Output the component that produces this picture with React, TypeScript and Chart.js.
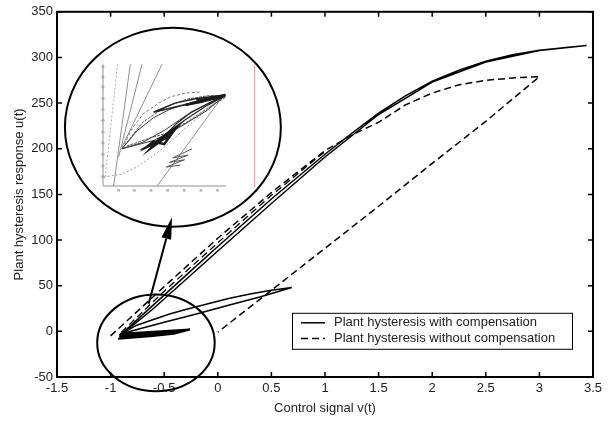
import React, { useEffect, useRef } from 'react';
import { Chart, registerables } from 'chart.js';

Chart.register(...registerables);

type P = [number, number];

// ---- axis ticks ----
const xTicks = [-1.5, -1, -0.5, 0, 0.5, 1, 1.5, 2, 2.5, 3, 3.5];
const yTicks = [-50, 0, 50, 100, 150, 200, 250, 300, 350];

const seriesLabels = ['Plant hysteresis with compensation', 'Plant hysteresis without compensation'];

// ---- with compensation (solid) ----
const compLargeAsc: P[] = [
  [-0.9, -3], [-0.6, 29], [-0.3, 61], [0, 93], [0.5, 145], [1.0, 194], [1.25, 217], [1.5, 239],
  [1.75, 258], [2.0, 274], [2.25, 286], [2.5, 296], [2.75, 303], [3.0, 308], [3.25, 311], [3.44, 313],
];
const compLargeDesc: P[] = [
  [3.44, 313], [3.0, 307.5], [2.5, 295], [2.0, 273], [1.5, 237.5], [1.0, 191], [0.5, 140], [0, 88],
  [-0.3, 56.5], [-0.6, 25], [-0.9, -4],
];
const compSmallUp: P[] = [
  [-0.91, -3], [-0.75, 7], [-0.6, 13], [-0.45, 19], [-0.3, 24], [-0.1, 30], [0.1, 36], [0.3, 41], [0.5, 45], [0.69, 48],
];
const compSmallDown: P[] = [[0.69, 48], [0.4, 38], [0.1, 28.5], [-0.2, 19], [-0.5, 10], [-0.91, -3]];
const compMinorLoops: P[] = [
  [-0.91, -2.6], [-0.26, 2], [-0.41, -2.6], [-0.63, -5.5], [-0.93, -8], [-0.6, -3], [-0.27, 1.5],
  [-0.6, -4.5], [-0.92, -5.5], [-0.55, -1.5], [-0.3, 1], [-0.62, -2], [-0.92, -4],
];

// ---- without compensation (dashed) ----
const noCompAsc: P[] = [
  [-1.0, -5], [-0.5, 49], [0, 102], [0.5, 152], [1.0, 198], [1.25, 215], [1.5, 229], [1.75, 248],
  [2.0, 261], [2.25, 270], [2.5, 275], [2.75, 277.5], [3.0, 279],
];
const noCompDesc: P[] = [[3.0, 279], [2.5, 230], [2.0, 184], [1.5, 137], [1.0, 91], [0.5, 45], [0, -1]];
const noCompInner: P[] = [[-0.9, -1], [-0.5, 44], [0, 97], [0.5, 149], [1.0, 197]];

// ---- magnified inset picture (grey) ----
const insetAxisV: P[] = [[-1.071, 292.6], [-1.071, 159.2]];
const insetAxisH: P[] = [[-1.071, 159.2], [0.076, 159.2]];
const insetYTickMarks: P[] = [
  [-1.071, 289.6], [-1.071, 278.7], [-1.071, 267.7], [-1.071, 255], [-1.071, 243], [-1.071, 231.2],
  [-1.071, 218.4], [-1.071, 206.4], [-1.071, 194], [-1.071, 181.2], [-1.071, 169.1],
];
const insetXTickMarks: P[] = [
  [-0.925, 154.5], [-0.779, 154.5], [-0.623, 154.5], [-0.468, 154.5], [-0.313, 154.5], [-0.157, 154.5], [-0.002, 154.5],
];
const insetRed: P[] = [[0.343, 292], [0.343, 158]];
const insetSteep1: P[] = [[-0.972, 159.2], [-0.816, 292.6]];
const insetSteep2: P[] = [[-0.925, 191], [-0.707, 292.6]];
const insetSteep3: P[] = [[-0.894, 202], [-0.52, 292.6]];
const insetSteepDotted: P[] = [[-1.05, 169], [-0.935, 292.6]];
const insetRightLine: P[] = [[-0.567, 159.2], [-0.36, 192], [-0.163, 224], [0.054, 258.6]];
const insetLowerArc: P[] = [[-1.065, 169], [-0.9, 172], [-0.754, 180], [-0.536, 198], [-0.287, 224], [-0.07, 246], [0.07, 258]];
const insetOuterArc: P[] = [[-0.894, 200], [-0.8, 222], [-0.692, 238.6], [-0.55, 250], [-0.443, 256.8], [-0.3, 261], [-0.17, 262]];
const insetLoopA: P[] = [
  [-0.894, 200], [-0.75, 220], [-0.6, 234], [-0.45, 243], [-0.3, 249], [-0.15, 253], [0.07, 258.6],
  [-0.1, 249], [-0.3, 236], [-0.5, 220], [-0.7, 207], [-0.894, 200],
];
const insetLoopB: P[] = [
  [-0.72, 199], [-0.6, 206], [-0.5, 214], [-0.38, 228], [-0.25, 240], [-0.1, 249], [0.07, 258],
  [-0.12, 246], [-0.3, 232], [-0.45, 219], [-0.58, 208], [-0.72, 199],
];
const insetLoopC: P[] = [[-0.894, 200], [-0.599, 209], [-0.35, 224], [-0.1, 242], [0.07, 258.6]];
const insetLoopD: P[] = [[-0.6, 240], [-0.4, 250], [-0.2, 255], [0.07, 259], [-0.15, 251], [-0.35, 247], [-0.6, 240]];
const insetLoopE: P[] = [[-0.894, 200], [-0.7, 229], [-0.5, 245], [-0.3, 254], [-0.1, 258], [0.07, 258.6]];
const insetLoopF: P[] = [[-0.85, 203], [-0.65, 211], [-0.45, 218], [-0.25, 232], [-0.05, 248], [0.07, 256]];
const insetClusterLow: P[] = [
  [-0.63, 203], [-0.45, 214], [-0.38, 224], [-0.55, 210], [-0.62, 201], [-0.42, 218], [-0.5, 205], [-0.6, 208],
  [-0.66, 202], [-0.48, 212],
];
const insetClusterHigh: P[] = [[-0.25, 250], [0.07, 259], [-0.15, 252], [0.05, 257], [-0.2, 253], [0.07, 258], [-0.3, 248]];
const insetZigzag: P[] = [[-0.24, 200], [-0.42, 190], [-0.28, 193], [-0.45, 185], [-0.31, 188], [-0.48, 180], [-0.35, 182]];

// ---- annotations (data units) ----
const bigEllipse = { cx: -0.419, cy: 223.6, rx: 1.007, ry: 109 };
const smallEllipse = { cx: -0.577, cy: -12.6, rx: 0.548, ry: 53 };
const arrowFrom: P = [-0.645, 30.3];
const arrowTo: P = [-0.427, 125];

const toXY = (pts: P[]) => pts.map(([x, y]) => ({ x, y }));

const FONT = '"Liberation Sans", Arial, Helvetica, sans-serif';
const DASH = [7, 4];

function line(data: P[], color: string, width: number, dash: number[] = [], label = '') {
  return {
    label,
    data: toXY(data),
    showLine: true,
    borderColor: color,
    backgroundColor: color,
    borderWidth: width,
    borderDash: dash,
    pointRadius: 0,
    fill: false,
    tension: 0,
  };
}
function marks(data: P[], color: string, style: string, radius: number) {
  return {
    label: '',
    data: toXY(data),
    showLine: false,
    pointStyle: style,
    pointRadius: radius,
    borderWidth: 0,
    backgroundColor: color,
    borderColor: color,
  };
}

const decorPlugin = {
  id: 'decor',
  afterDatasetsDraw(chart: any) {
    const { ctx, chartArea: a, scales } = chart;
    const x = scales.x;
    const y = scales.y;
    ctx.save();
    // axes box
    ctx.strokeStyle = '#000';
    ctx.lineWidth = 2;
    ctx.setLineDash([]);
    ctx.strokeRect(a.left, a.top, a.right - a.left, a.bottom - a.top);
    // inward ticks
    ctx.lineWidth = 1.5;
    const tl = 5;
    ctx.beginPath();
    x.ticks.forEach((t: any) => {
      const px = x.getPixelForValue(t.value);
      ctx.moveTo(px, a.bottom); ctx.lineTo(px, a.bottom - tl);
      ctx.moveTo(px, a.top); ctx.lineTo(px, a.top + tl);
    });
    y.ticks.forEach((t: any) => {
      const py = y.getPixelForValue(t.value);
      ctx.moveTo(a.left, py); ctx.lineTo(a.left + tl, py);
      ctx.moveTo(a.right, py); ctx.lineTo(a.right - tl, py);
    });
    ctx.stroke();

    // ellipses
    ctx.lineWidth = 2;
    [bigEllipse, smallEllipse].forEach((e) => {
      const cx = x.getPixelForValue(e.cx);
      const cy = y.getPixelForValue(e.cy);
      const rx = Math.abs(x.getPixelForValue(e.cx + e.rx) - cx);
      const ry = Math.abs(y.getPixelForValue(e.cy + e.ry) - cy);
      ctx.beginPath();
      ctx.ellipse(cx, cy, rx, ry, 0, 0, Math.PI * 2);
      ctx.stroke();
    });

    // arrow
    const x0 = x.getPixelForValue(arrowFrom[0]);
    const y0 = y.getPixelForValue(arrowFrom[1]);
    const x1 = x.getPixelForValue(arrowTo[0]);
    const y1 = y.getPixelForValue(arrowTo[1]);
    const ang = Math.atan2(y1 - y0, x1 - x0);
    const hl = 22;
    const hw = 5;
    const bx = x1 - hl * Math.cos(ang);
    const by = y1 - hl * Math.sin(ang);
    ctx.lineWidth = 2;
    ctx.beginPath();
    ctx.moveTo(x0, y0);
    ctx.lineTo(bx, by);
    ctx.stroke();
    ctx.fillStyle = '#000';
    ctx.beginPath();
    ctx.moveTo(x1, y1);
    ctx.lineTo(bx + hw * Math.sin(ang), by - hw * Math.cos(ang));
    ctx.lineTo(bx - hw * Math.sin(ang), by + hw * Math.cos(ang));
    ctx.closePath();
    ctx.fill();

    // legend (inside axes, lower right)
    const lx = a.left + 235;
    const ly = a.top + 301;
    const lw = 280;
    const lh = 36;
    ctx.fillStyle = '#fff';
    ctx.fillRect(lx, ly, lw, lh);
    ctx.strokeStyle = '#000';
    ctx.lineWidth = 1;
    ctx.strokeRect(lx + 0.5, ly + 0.5, lw, lh);
    const rows = [
      { text: chart.data.datasets[0].label, dash: [] as number[] },
      { text: chart.data.datasets[1].label, dash: DASH },
    ];
    ctx.font = `13px ${FONT}`;
    ctx.textBaseline = 'middle';
    ctx.textAlign = 'left';
    rows.forEach((r, i) => {
      const ry = ly + 10 + i * 15.6;
      ctx.setLineDash(r.dash);
      ctx.lineWidth = 1.5;
      ctx.beginPath();
      ctx.moveTo(lx + 9, ry);
      ctx.lineTo(lx + 33, ry);
      ctx.stroke();
      ctx.setLineDash([]);
      ctx.fillStyle = '#222';
      ctx.fillText(r.text, lx + 42, ry);
    });
    ctx.restore();
  },
};

export default function App() {
  const ref = useRef<HTMLCanvasElement | null>(null);

  useEffect(() => {
    if (!ref.current) return;
    Chart.defaults.font.family = FONT;
    Chart.defaults.font.size = 13;
    const grey = '#8f8f8f';
    const dark = '#3a3a3a';
    const datasets: any[] = [
      line([...compLargeAsc, ...compLargeDesc.slice(1)], '#000', 1.5, [], seriesLabels[0]),
      line([...noCompAsc, ...noCompDesc.slice(1)], '#000', 1.5, DASH, seriesLabels[1]),
      line([...compSmallUp, ...compSmallDown.slice(1)], '#000', 1.5),
      line(compMinorLoops, '#000', 2),
      line(noCompInner, '#000', 1.3, DASH),
      // inset picture
      line(insetRed, '#f4a0a0', 1),
      line(insetZigzag, '#555', 1),
      line(insetClusterLow, '#1a1a1a', 2.5),
      line(insetClusterHigh, '#1a1a1a', 2.5),
      line(insetLoopD, '#222', 1.5),
      line(insetLoopC, dark, 1),
      line(insetLoopB, '#222', 1.2),
      line(insetLoopA, dark, 1),
      line(insetLoopE, '#555', 1, [3, 1]),
      line(insetLoopF, '#555', 1, [3, 1]),
      line(insetOuterArc, '#777', 1, [3, 2]),
      line(insetLowerArc, '#999', 1, [2, 2]),
      line(insetRightLine, grey, 1),
      line(insetSteepDotted, '#aaa', 1, [2, 2]),
      line(insetSteep3, grey, 1),
      line(insetSteep2, grey, 1),
      line(insetSteep1, grey, 1),
      marks(insetYTickMarks, '#aaa', 'circle', 1.6),
      marks(insetXTickMarks, '#bbb', 'rect', 2),
      line(insetAxisH, '#b5b5b5', 1.5),
      line(insetAxisV, '#b5b5b5', 1.5),
    ];

    const chart = new Chart(ref.current, {
      type: 'scatter',
      data: { datasets },
      options: {
        animation: false,
        responsive: false,
        maintainAspectRatio: false,
        layout: { padding: { top: 11, right: 22, bottom: 0, left: 0 } },
        plugins: { legend: { display: false }, tooltip: { enabled: false } },
        scales: {
          x: {
            type: 'linear',
            min: -1.5,
            max: 3.5,
            afterBuildTicks: (s: any) => { s.ticks = xTicks.map((v) => ({ value: v })); },
            afterFit: (s: any) => { s.height = 46; },
            grid: { display: false, drawTicks: false },
            border: { display: false },
            ticks: { padding: 4, color: '#222', font: { size: 13 }, maxRotation: 0, autoSkip: false, callback: (v: any) => String(v) },
            title: { display: true, text: 'Control signal v(t)', color: '#222', font: { size: 13 }, padding: { top: 0, bottom: 7 } },
          },
          y: {
            type: 'linear',
            min: -50,
            max: 350,
            afterBuildTicks: (s: any) => { s.ticks = yTicks.map((v) => ({ value: v })); },
            afterFit: (s: any) => { s.width = 57; },
            grid: { display: false, drawTicks: false },
            border: { display: false },
            ticks: { padding: 4, color: '#222', font: { size: 13 }, autoSkip: false, callback: (v: any) => String(v) },
            title: { display: true, text: 'Plant hysteresis response u(t)', color: '#222', font: { size: 13 }, padding: { top: 12, bottom: 0 } },
          },
        },
      },
      plugins: [decorPlugin],
    });
    return () => chart.destroy();
  }, []);

  return (
    <div style={{ position: 'absolute', left: 0, top: 0, width: 615, height: 423, background: '#fff' }}>
      <canvas ref={ref} width={615} height={423} style={{ display: 'block' }} />
    </div>
  );
}
